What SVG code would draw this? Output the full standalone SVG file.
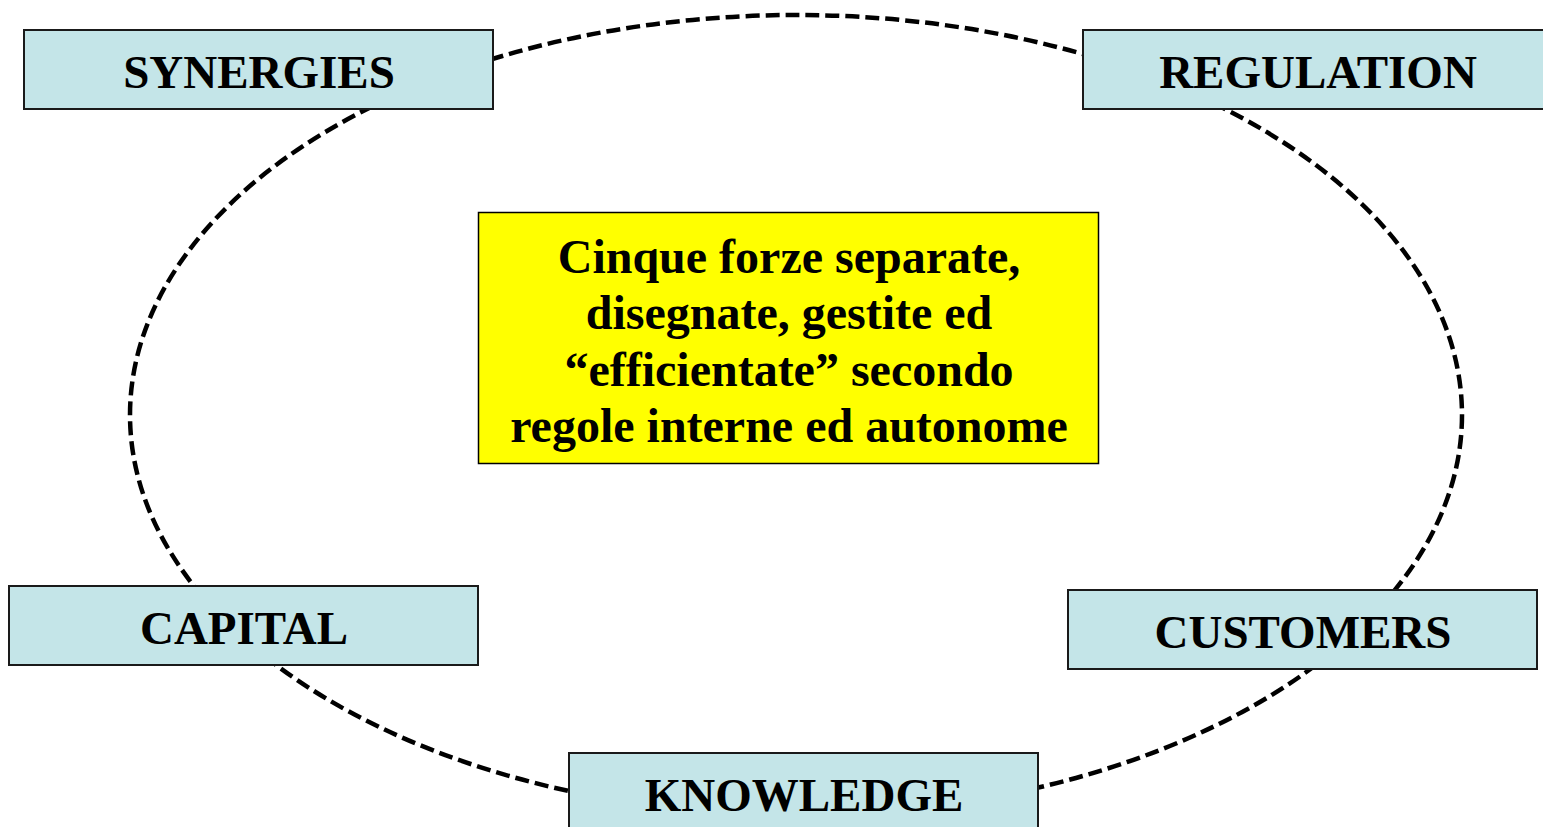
<svg xmlns="http://www.w3.org/2000/svg" width="1543" height="827" viewBox="0 0 1543 827">
<style>
.box{fill:#C4E5E8;stroke:#1a1a1a;stroke-width:2}
.lbl{font-family:"Liberation Serif","Times New Roman",serif;font-weight:bold;font-size:47px;fill:#000;text-anchor:middle}
.big{font-size:48px}
.ring{fill:none;stroke:#000;stroke-width:4.5;stroke-dasharray:14 6}
.center{fill:#FFFF00;stroke:#000;stroke-width:1.5}
</style>
<rect width="1543" height="827" fill="#fff"/>
<g id="connectors">
<ellipse class="ring" cx="796" cy="415" rx="666" ry="400"/>
</g>
<g id="center">
<rect class="center" x="478.5" y="212.5" width="620" height="251"/>
<text class="lbl big" x="789" y="273">Cinque forze separate,</text>
<text class="lbl big" x="789" y="329">disegnate, gestite ed</text>
<text class="lbl big" x="789" y="386">“efficientate” secondo</text>
<text class="lbl big" x="789" y="442">regole interne ed autonome</text>
</g>
<g id="synergies">
<rect class="box" x="24" y="30" width="469" height="79"/>
<text class="lbl" x="259" y="88">SYNERGIES</text>
</g>
<g id="regulation">
<rect class="box" x="1083" y="30" width="469" height="79"/>
<text class="lbl" x="1318" y="88">REGULATION</text>
</g>
<g id="capital">
<rect class="box" x="9" y="586" width="469" height="79"/>
<text class="lbl" x="244" y="644">CAPITAL</text>
</g>
<g id="customers">
<rect class="box" x="1068" y="590" width="469" height="79"/>
<text class="lbl" x="1303" y="648">CUSTOMERS</text>
</g>
<g id="knowledge">
<rect class="box" x="569" y="753" width="469" height="79"/>
<text class="lbl" x="804" y="811">KNOWLEDGE</text>
</g>
</svg>
